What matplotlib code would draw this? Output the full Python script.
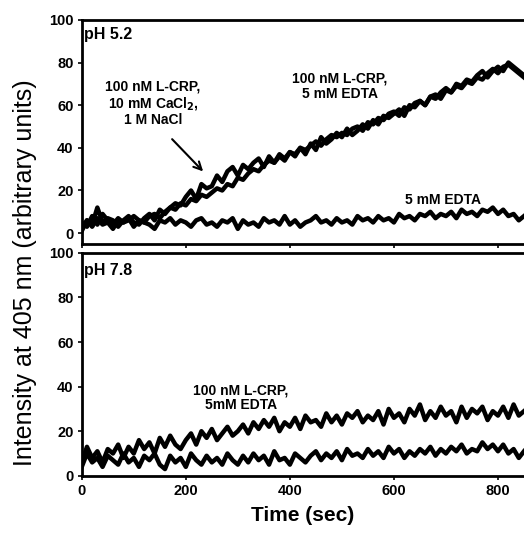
import numpy as np
import matplotlib
matplotlib.use("Agg")
import matplotlib.pyplot as plt

plt.rcParams['font.family'] = ['Liberation Sans', 'DejaVu Sans']

# sample times (sec), one value every 10 s
time_sec = np.arange(0, 851, 10)

# pH 5.2 traces
crp_edta_52 = [2, 6, 4, 12, 5, 7, 6, 3, 6, 8,
               5, 4, 7, 9, 6, 11, 9, 12, 14, 13,
               17, 20, 16, 23, 21, 22, 27, 24, 29, 31,
               27, 32, 30, 33, 35, 31, 36, 33, 37, 35,
               38, 36, 40, 37, 42, 39, 45, 42, 44, 47,
               45, 49, 46, 48, 51, 49, 53, 51, 55, 54,
               56, 58, 55, 60, 59, 62, 60, 64, 65, 63,
               67, 66, 69, 68, 71, 70, 73, 72, 75, 77,
               75, 78, 79, 77, 75, 73]
crp_cacl2_52 = [5, 3, 8, 4, 9, 6, 4, 7, 5, 6,
                8, 6, 5, 8, 9, 7, 10, 12, 11, 14,
                13, 16, 15, 18, 17, 19, 21, 20, 23, 22,
                26, 25, 28, 30, 29, 32, 34, 33, 36, 34,
                38, 37, 40, 39, 41, 43, 41, 44, 46, 45,
                47, 46, 49, 50, 48, 52, 51, 54, 53, 56,
                57, 55, 59, 58, 61, 62, 60, 64, 63, 66,
                68, 66, 70, 69, 72, 71, 74, 76, 73, 76,
                78, 76, 80, 78, 76, 74]
edta_52 = [1, 6, 3, 7, 4, 5, 2, 6, 5, 7,
           3, 6, 5, 4, 2, 6, 5, 7, 4, 6,
           5, 3, 6, 7, 4, 5, 3, 6, 5, 7,
           2, 6, 4, 5, 3, 7, 5, 6, 4, 8,
           4, 6, 3, 5, 6, 8, 5, 6, 4, 7,
           5, 6, 4, 8, 6, 7, 5, 8, 6, 7,
           5, 9, 7, 8, 6, 9, 8, 10, 7, 9,
           8, 10, 7, 11, 9, 10, 8, 11, 10, 12,
           9, 11, 8, 9, 6, 8]

# pH 7.8 traces
crp_edta_78 = [6, 13, 8, 11, 6, 12, 10, 14, 8, 13,
               10, 16, 12, 15, 10, 17, 13, 18, 14, 12,
               16, 19, 14, 20, 17, 21, 16, 19, 22, 18,
               20, 23, 19, 24, 21, 25, 22, 26, 20, 24,
               22, 26, 21, 27, 24, 25, 22, 28, 24, 27,
               23, 28, 26, 29, 24, 27, 25, 29, 23, 30,
               26, 28, 24, 30, 27, 32, 25, 29, 26, 31,
               27, 29, 24, 31, 26, 30, 28, 31, 25, 29,
               27, 31, 26, 32, 27, 29]
edta_78 = [4, 10, 6, 8, 4, 9, 7, 5, 10, 6,
           8, 4, 9, 7, 10, 5, 3, 9, 6, 8,
           4, 10, 7, 5, 9, 6, 8, 5, 10, 7,
           5, 9, 6, 10, 7, 9, 5, 11, 7, 8,
           5, 10, 8, 6, 9, 11, 7, 10, 8, 11,
           7, 12, 9, 10, 8, 12, 9, 11, 8, 13,
           10, 12, 8, 11, 9, 12, 10, 13, 9, 12,
           10, 13, 11, 14, 10, 12, 11, 15, 12, 14,
           11, 14, 10, 12, 8, 11]

x_ticks = [0, 200, 400, 600, 800]
y_ticks = [0, 20, 40, 60, 80, 100]

fig = plt.figure(figsize=(5.24, 5.37), dpi=100)
ax_top = fig.add_axes([0.156, 0.546, 0.844, 0.417])
ax_bot = fig.add_axes([0.156, 0.114, 0.844, 0.415])

line_kw = dict(color='black', linewidth=3.2, solid_joinstyle='round')

ax_top.plot(time_sec, edta_52, **line_kw)
ax_top.plot(time_sec, crp_cacl2_52, **line_kw)
ax_top.plot(time_sec, crp_edta_52, **line_kw)
ax_bot.plot(time_sec, edta_78, **line_kw)
ax_bot.plot(time_sec, crp_edta_78, **line_kw)

ax_top.set_ylim(-5, 100)
ax_bot.set_ylim(0, 100)

for ax in (ax_top, ax_bot):
    ax.set_xlim(0, 850)
    ax.set_xticks(x_ticks)
    ax.set_yticks(y_ticks)
    ax.spines['right'].set_visible(False)
    for side in ('left', 'top', 'bottom'):
        ax.spines[side].set_linewidth(2)
    ax.tick_params(direction='out', length=3, width=1.2, labelsize=10.5, pad=3)
    for lab in ax.get_xticklabels() + ax.get_yticklabels():
        lab.set_fontweight('bold')

ax_top.tick_params(axis='x', labelbottom=False)

# annotations
bold = dict(fontweight='bold', fontsize=10, ha='center', va='center')
ax_top.text(5, 93, 'pH 5.2', fontweight='bold', fontsize=11.5, ha='left', va='center')
ax_top.text(137, 61, '100 nM L-CRP,\n10 mM CaCl$_\\mathbf{2}$,\n1 M NaCl',
            linespacing=1.1, **bold)
ax_top.annotate('', xy=(237, 28), xytext=(170, 45),
                arrowprops=dict(arrowstyle='->', color='black', lw=1.5, mutation_scale=14))
ax_top.text(496, 69, '100 nM L-CRP,\n5 mM EDTA', linespacing=1.1, **bold)
ax_top.text(694, 15.5, '5 mM EDTA', **bold)

ax_bot.text(5, 92, 'pH 7.8', fontweight='bold', fontsize=11.5, ha='left', va='center')
ax_bot.text(306, 35, '100 nM L-CRP,\n5mM EDTA', linespacing=1.1, **bold)

ax_bot.set_xlabel('Time (sec)', fontsize=15, fontweight='bold', labelpad=6)
fig.text(0.048, 0.493, 'Intensity at 405 nm (arbitrary units)', rotation=90,
         fontsize=18, ha='center', va='center')

fig.savefig('out.png', dpi=100)
